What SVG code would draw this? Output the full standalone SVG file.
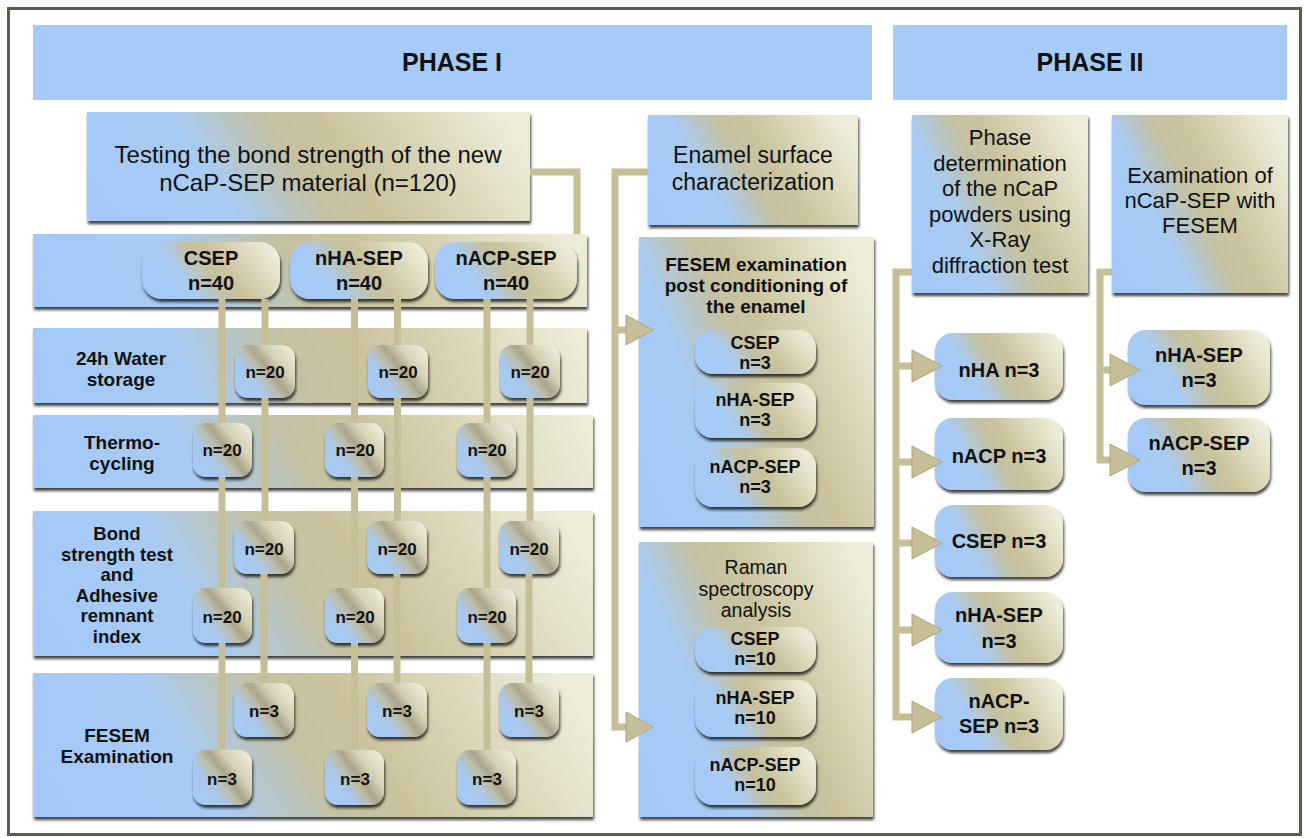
<svg xmlns="http://www.w3.org/2000/svg" width="1305" height="838" viewBox="0 0 1305 838">
<defs>
<linearGradient id="gBase">
<stop offset="0" stop-color="#a4c9f8"/>
<stop offset="0.27" stop-color="#a8cbf3"/>
<stop offset="0.47" stop-color="#c4c1a3"/>
<stop offset="0.6" stop-color="#cac39d"/>
<stop offset="1" stop-color="#edecd8"/>
</linearGradient>
<linearGradient id="gRow" href="#gBase" x1="0" y1="0.53" x2="1" y2="0.47"/>
<linearGradient id="gWide" href="#gBase" x1="0" y1="0.58" x2="1" y2="0.42"/>
<linearGradient id="gMed" href="#gBase" x1="0" y1="0.66" x2="1" y2="0.34"/>
<linearGradient id="gSq" href="#gBase" x1="0" y1="0.75" x2="1" y2="0.25"/>
<linearGradient id="gMetal" x1="0" y1="0.85" x2="1" y2="0.15">
<stop offset="0" stop-color="#a6caf6"/>
<stop offset="0.3" stop-color="#a9c8ea"/>
<stop offset="0.45" stop-color="#bcbdab"/>
<stop offset="0.56" stop-color="#aaa58b"/>
<stop offset="0.72" stop-color="#d4d0b4"/>
<stop offset="1" stop-color="#eeecda"/>
</linearGradient>
<filter id="sh" x="-10%" y="-10%" width="125%" height="135%">
<feDropShadow dx="1" dy="3" stdDeviation="1.4" flood-color="#000" flood-opacity="0.75"/>
</filter>
</defs>
<style>
text{font-family:"Liberation Sans",Arial,Helvetica,sans-serif;fill:#111;text-anchor:middle}
.b{font-weight:bold}
.f17{font-size:17px}
.f18{font-size:18px}
.f185{font-size:18.5px}
.f19{font-size:19px}
.f195{font-size:19.5px}
.f20{font-size:20px}
.f22{font-size:22px}
.f23{font-size:23px}
.f24{font-size:24px}
.f25{font-size:25px}
.banner{fill:#a7cbf8}
.row{filter:url(#sh)}
.box{filter:url(#sh)}
.sm{fill:url(#gMetal);filter:url(#sh)}
.conn{fill:none;stroke:#c6be97;stroke-width:7}
.ah{fill:#c6be97;stroke:#ada582;stroke-width:1}
</style>
<rect x="0" y="0" width="1305" height="838" fill="#ffffff"/>
<rect x="8.5" y="8.5" width="1292" height="826" fill="none" stroke="#5e5c4c" stroke-width="3"/>

<g id="phase1-banner"><rect class="banner" x="33" y="25" width="839" height="75"/><text class="b f25" x="452" y="71">PHASE I</text></g>
<g id="phase2-banner"><rect class="banner" x="893" y="25" width="394" height="75"/><text class="b f25" x="1090" y="71">PHASE II</text></g>

<g id="testing"><rect class="box" x="87" y="112" width="443" height="109" fill="url(#gWide)"/>
<text class="f24" x="308" y="163">Testing the bond strength of the new</text>
<text class="f24" x="308" y="191">nCaP-SEP material (n=120)</text></g>

<g id="row-groups"><rect class="row" x="33" y="234" width="554" height="73" fill="url(#gRow)"/></g>
<g id="row-water"><rect class="row" x="33" y="328" width="554" height="75" fill="url(#gRow)"/>
<text class="b f19" x="121" y="365">24h Water</text><text class="b f19" x="121" y="386">storage</text></g>
<g id="row-thermo"><rect class="row" x="33" y="415" width="560" height="73" fill="url(#gRow)"/>
<text class="b f19" x="122" y="449">Thermo-</text><text class="b f19" x="122" y="470">cycling</text></g>
<g id="row-bond"><rect class="row" x="33" y="511" width="560" height="145" fill="url(#gWide)"/>
<text class="b f185" x="117" y="540">Bond</text><text class="b f185" x="117" y="560.5">strength test</text><text class="b f185" x="117" y="581">and</text><text class="b f185" x="117" y="601.5">Adhesive</text><text class="b f185" x="117" y="622">remnant</text><text class="b f185" x="117" y="642.5">index</text></g>
<g id="row-fesem"><rect class="row" x="33" y="673" width="560" height="144" fill="url(#gWide)"/>
<text class="b f19" x="117" y="742">FESEM</text><text class="b f19" x="117" y="763">Examination</text></g>

<g id="csep40"><rect class="box" x="142" y="242" width="138" height="57" rx="20" fill="url(#gMed)"/><text class="b f20" x="211" y="265">CSEP</text><text class="b f20" x="211" y="290">n=40</text></g>
<g id="nhasep40"><rect class="box" x="290" y="242" width="138" height="57" rx="20" fill="url(#gMed)"/><text class="b f20" x="359" y="265">nHA-SEP</text><text class="b f20" x="359" y="290">n=40</text></g>
<g id="nacpsep40"><rect class="box" x="435" y="242" width="142" height="57" rx="20" fill="url(#gMed)"/><text class="b f20" x="506" y="265">nACP-SEP</text><text class="b f20" x="506" y="290">n=40</text></g>

<g id="w-csep"><rect class="sm" x="235" y="345" width="60" height="53" rx="13"/><text class="b f17" x="265" y="378">n=20</text></g>
<g id="w-nha"><rect class="sm" x="368" y="345" width="60" height="53" rx="13"/><text class="b f17" x="398" y="378">n=20</text></g>
<g id="w-nacp"><rect class="sm" x="500" y="345" width="60" height="53" rx="13"/><text class="b f17" x="530" y="378">n=20</text></g>
<g id="t-csep"><rect class="sm" x="193" y="423" width="59" height="54" rx="13"/><text class="b f17" x="222" y="456">n=20</text></g>
<g id="t-nha"><rect class="sm" x="325" y="423" width="59" height="54" rx="13"/><text class="b f17" x="355" y="456">n=20</text></g>
<g id="t-nacp"><rect class="sm" x="457" y="423" width="59" height="54" rx="13"/><text class="b f17" x="487" y="456">n=20</text></g>
<g id="b1-csep"><rect class="sm" x="234" y="521" width="60" height="53" rx="13"/><text class="b f17" x="264" y="555">n=20</text></g>
<g id="b1-nha"><rect class="sm" x="367" y="521" width="60" height="53" rx="13"/><text class="b f17" x="397" y="555">n=20</text></g>
<g id="b1-nacp"><rect class="sm" x="499" y="521" width="60" height="53" rx="13"/><text class="b f17" x="529" y="555">n=20</text></g>
<g id="b2-csep"><rect class="sm" x="193" y="588" width="59" height="55" rx="13"/><text class="b f17" x="222" y="623">n=20</text></g>
<g id="b2-nha"><rect class="sm" x="325" y="588" width="59" height="55" rx="13"/><text class="b f17" x="355" y="623">n=20</text></g>
<g id="b2-nacp"><rect class="sm" x="457" y="588" width="59" height="55" rx="13"/><text class="b f17" x="487" y="623">n=20</text></g>
<g id="f1-csep"><rect class="sm" x="234" y="683" width="60" height="54" rx="13"/><text class="b f17" x="264" y="717">n=3</text></g>
<g id="f1-nha"><rect class="sm" x="367" y="683" width="60" height="54" rx="13"/><text class="b f17" x="397" y="717">n=3</text></g>
<g id="f1-nacp"><rect class="sm" x="499" y="683" width="60" height="54" rx="13"/><text class="b f17" x="529" y="717">n=3</text></g>
<g id="f2-csep"><rect class="sm" x="193" y="750" width="59" height="55" rx="13"/><text class="b f17" x="222" y="785">n=3</text></g>
<g id="f2-nha"><rect class="sm" x="325" y="750" width="59" height="55" rx="13"/><text class="b f17" x="355" y="785">n=3</text></g>
<g id="f2-nacp"><rect class="sm" x="457" y="750" width="59" height="55" rx="13"/><text class="b f17" x="487" y="785">n=3</text></g>

<g id="enamel"><rect class="box" x="648" y="115" width="210" height="110" fill="url(#gMed)"/>
<text class="f23" x="753" y="163">Enamel surface</text><text class="f23" x="753" y="190">characterization</text></g>

<g id="fesem-post"><rect class="box" x="639" y="237" width="235" height="290" fill="url(#gSq)"/>
<text class="b f19" x="756" y="271">FESEM examination</text><text class="b f19" x="756" y="292">post conditioning of</text><text class="b f19" x="756" y="313">the enamel</text></g>
<g id="fp-csep"><rect class="box" x="695" y="330" width="121" height="44" rx="18" fill="url(#gMed)"/><text class="b f18" x="755" y="349">CSEP</text><text class="b f18" x="755" y="369">n=3</text></g>
<g id="fp-nha"><rect class="box" x="695" y="383" width="121" height="55" rx="18" fill="url(#gMed)"/><text class="b f18" x="755" y="406">nHA-SEP</text><text class="b f18" x="755" y="426">n=3</text></g>
<g id="fp-nacp"><rect class="box" x="695" y="448" width="121" height="59" rx="18" fill="url(#gMed)"/><text class="b f18" x="755" y="473">nACP-SEP</text><text class="b f18" x="755" y="493">n=3</text></g>

<g id="raman"><rect class="box" x="639" y="542" width="234" height="275" fill="url(#gSq)"/>
<text class="f195" x="756" y="574">Raman</text><text class="f195" x="756" y="595.5">spectroscopy</text><text class="f195" x="756" y="617">analysis</text></g>
<g id="r-csep"><rect class="box" x="695" y="627" width="121" height="45" rx="18" fill="url(#gMed)"/><text class="b f18" x="755" y="645">CSEP</text><text class="b f18" x="755" y="665">n=10</text></g>
<g id="r-nha"><rect class="box" x="695" y="680" width="121" height="57" rx="18" fill="url(#gMed)"/><text class="b f18" x="755" y="704">nHA-SEP</text><text class="b f18" x="755" y="724">n=10</text></g>
<g id="r-nacp"><rect class="box" x="695" y="747" width="121" height="58" rx="18" fill="url(#gMed)"/><text class="b f18" x="755" y="771">nACP-SEP</text><text class="b f18" x="755" y="791">n=10</text></g>

<g id="phase-det"><rect class="box" x="912" y="115" width="176" height="178" fill="url(#gSq)"/>
<text class="f22" x="1000" y="145">Phase</text><text class="f22" x="1000" y="171">determination</text><text class="f22" x="1000" y="196">of the nCaP</text><text class="f22" x="1000" y="222">powders using</text><text class="f22" x="1000" y="247">X-Ray</text><text class="f22" x="1000" y="273">diffraction test</text></g>
<g id="exam"><rect class="box" x="1112" y="115" width="176" height="178" fill="url(#gSq)"/>
<text class="f22" x="1200" y="183">Examination of</text><text class="f22" x="1200" y="208">nCaP-SEP with</text><text class="f22" x="1200" y="233">FESEM</text></g>

<g id="p2-nha"><rect class="box" x="935" y="333" width="128" height="67" rx="18" fill="url(#gMed)"/><text class="b f20" x="999" y="377">nHA n=3</text></g>
<g id="p2-nacp"><rect class="box" x="935" y="418" width="128" height="72" rx="18" fill="url(#gMed)"/><text class="b f20" x="999" y="463">nACP n=3</text></g>
<g id="p2-csep"><rect class="box" x="935" y="505" width="128" height="72" rx="18" fill="url(#gMed)"/><text class="b f20" x="999" y="548">CSEP n=3</text></g>
<g id="p2-nhasep"><rect class="box" x="935" y="592" width="128" height="71" rx="18" fill="url(#gMed)"/><text class="b f20" x="999" y="622">nHA-SEP</text><text class="b f20" x="999" y="648">n=3</text></g>
<g id="p2-nacpsep"><rect class="box" x="935" y="678" width="128" height="72" rx="18" fill="url(#gMed)"/><text class="b f20" x="999" y="708">nACP-</text><text class="b f20" x="999" y="733">SEP n=3</text></g>
<g id="ex-nhasep"><rect class="box" x="1128" y="330" width="142" height="75" rx="18" fill="url(#gMed)"/><text class="b f20" x="1199" y="362">nHA-SEP</text><text class="b f20" x="1199" y="387">n=3</text></g>
<g id="ex-nacpsep"><rect class="box" x="1128" y="418" width="142" height="74" rx="18" fill="url(#gMed)"/><text class="b f20" x="1199" y="450">nACP-SEP</text><text class="b f20" x="1199" y="475">n=3</text></g>

<g id="connectors">
<path class="conn" d="M530,172H577V234"/>
<path class="conn" d="M222,299V423M222,477V588M222,643V750M265,299V345M265,398V521M264,574V683"/>
<path class="conn" d="M354.5,299V423M354.5,477V588M354.5,643V750M397.5,299V345M397.5,398V521M397,574V683"/>
<path class="conn" d="M487,299V423M487,477V588M487,643V750M530,299V345M530,398V521M529,574V683"/>
<path class="conn" d="M648,172H615V727H628M615,330H628"/>
<polygon class="ah" points="626,315 653,330 626,345"/>
<polygon class="ah" points="626,712 653,727 626,742"/>
<path class="conn" d="M912,272H896V717H914M896,366H914M896,462H914M896,543H914M896,630H914"/>
<polygon class="ah" points="912,350 942,366 912,382"/>
<polygon class="ah" points="912,446 942,462 912,478"/>
<polygon class="ah" points="912,527 942,543 912,559"/>
<polygon class="ah" points="912,614 942,630 912,646"/>
<polygon class="ah" points="912,701 942,717 912,733"/>
<path class="conn" d="M1112,272H1100V460H1112M1100,370H1112"/>
<polygon class="ah" points="1110,354 1140,370 1110,386"/>
<polygon class="ah" points="1110,444 1140,460 1110,476"/>
</g>
</svg>
